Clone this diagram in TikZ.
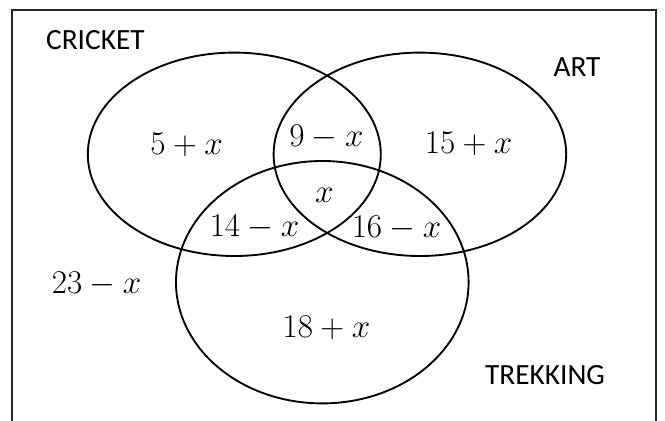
\documentclass[tikz,border=0pt]{standalone}
\usepackage{fontspec}
\setmainfont{Carlito}
\usetikzlibrary{positioning}

\begin{document}
\begin{tikzpicture}[
  x=0.75pt, y=-0.75pt,
  frame/.style={draw=black!85, line width=1.4pt},
  setline/.style={draw=black, line width=1.4pt},
  setname/.style={font=\fontsize{22}{26}\selectfont, inner sep=0pt},
  region/.style={font=\fontsize{24.5}{28}\selectfont, inner sep=0pt},
]
\useasboundingbox (0,0) rectangle (665,421);

% frame (open at the bottom)
\coordinate (fbl) at (12,421);
\coordinate (ftl) at (12,10);
\coordinate (ftr) at (656,10);
\coordinate (fbr) at (656,421);
\draw[frame] (fbl) -- (ftl) -- (ftr) -- (fbr);

% sets
\coordinate (cricket) at (234.3,154.3);
\coordinate (art) at (419.9,154.3);
\coordinate (trekking) at (322.3,282.2);
\draw[setline] (cricket) ellipse [x radius=146.5, y radius=101.7];
\draw[setline] (art) ellipse [x radius=146.3, y radius=101.7];
\draw[setline] (trekking) ellipse [x radius=146.3, y radius=121.2];

% set names
\node[setname] (cricketname) at (95.4,40) {CRICKET};
\node[setname] (artname) at (577,66.7) {ART};
\node[setname] (trekkingname) at (545,375) {TREKKING};

% regions
\node[region] (conly) at (186.6,145) {$5+x$};
\node[region] (ca) at (326.5,137) {$9-x$};
\node[region] (aonly) at (468.6,144) {$15+x$};
\node[region] (cat) at (324.4,195) {$x$};
\node[region] (ct) at (254.5,227) {$14-x$};
\node[region] (at) at (396.5,228) {$16-x$};
\node[region] (none) at (96.7,284.3) {$23-x$};
\node[region] (tonly) at (326.5,328.3) {$18+x$};

\end{tikzpicture}
\end{document}
